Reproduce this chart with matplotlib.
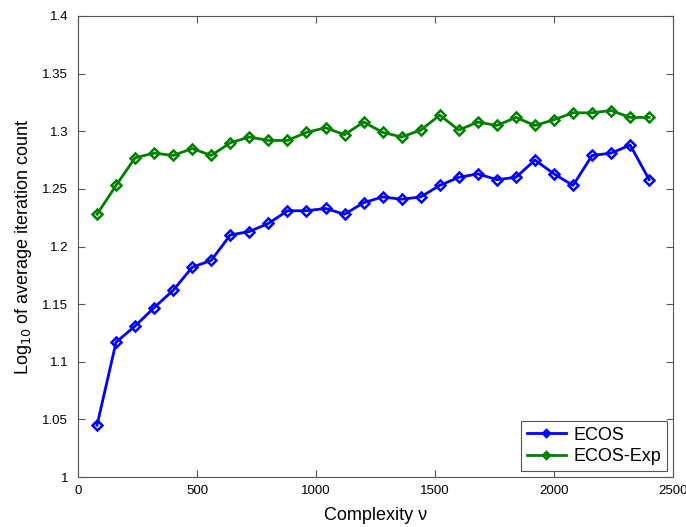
import matplotlib
matplotlib.use("Agg")
import matplotlib.pyplot as plt

plt.rcParams['font.family'] = ['Liberation Sans', 'DejaVu Sans']

complexity = [80, 160, 240, 320, 400, 480, 560, 640, 720, 800, 880, 960, 1040, 1120, 1200,
              1280, 1360, 1440, 1520, 1600, 1680, 1760, 1840, 1920, 2000, 2080, 2160, 2240, 2320, 2400]
ecos = [1.045, 1.117, 1.131, 1.147, 1.162, 1.182, 1.188, 1.210, 1.213, 1.220, 1.231, 1.231, 1.233, 1.228, 1.238,
        1.243, 1.241, 1.243, 1.253, 1.260, 1.263, 1.258, 1.260, 1.275, 1.263, 1.253, 1.279, 1.281, 1.288, 1.258]
ecos_exp = [1.228, 1.253, 1.277, 1.281, 1.279, 1.285, 1.279, 1.290, 1.295, 1.292, 1.292, 1.299, 1.303, 1.297, 1.308,
            1.299, 1.295, 1.301, 1.314, 1.301, 1.308, 1.305, 1.312, 1.305, 1.310, 1.316, 1.316, 1.318, 1.312, 1.312]

fig = plt.figure(figsize=(6.86, 5.27), dpi=100)
ax = fig.add_axes([78/686, 50/527, 595/686, 461/527])

ax.plot(complexity, ecos, color=(0, 0, 1), lw=2, marker='D', ms=5.5, mfc='none', mew=1.8, label='ECOS')
ax.plot(complexity, ecos_exp, color=(0, 0.5, 0), lw=2, marker='D', ms=5.5, mfc='none', mew=1.8, label='ECOS-Exp')

ax.set_xlim(0, 2500)
ax.set_ylim(1, 1.4)
ax.set_xticks([0, 500, 1000, 1500, 2000, 2500])
ax.set_yticks([1, 1.05, 1.1, 1.15, 1.2, 1.25, 1.3, 1.35, 1.4])
ax.set_yticklabels(['1', '1.05', '1.1', '1.15', '1.2', '1.25', '1.3', '1.35', '1.4'])
ax.tick_params(direction='in', top=True, right=True, labelsize=9.5, length=5, width=0.8, colors='#555555', labelcolor='black')
ax.tick_params(axis='x', pad=6)
ax.tick_params(axis='y', pad=7)
for s in ax.spines.values():
    s.set_color('#555555')
    s.set_linewidth(0.8)

ax.set_xlabel('Complexity ν', fontsize=13, labelpad=7)
ax.set_ylabel('Log$_{10}$ of average iteration count', fontsize=13, labelpad=6)

leg = ax.legend(loc='lower right', fontsize=13, fancybox=False, edgecolor='#555555',
                borderaxespad=0.35, handlelength=2.2, framealpha=1, markerscale=0.65,
                borderpad=0.3, labelspacing=0.25, handletextpad=0.4)
leg.get_frame().set_linewidth(0.8)

fig.savefig('out.png', dpi=100)
